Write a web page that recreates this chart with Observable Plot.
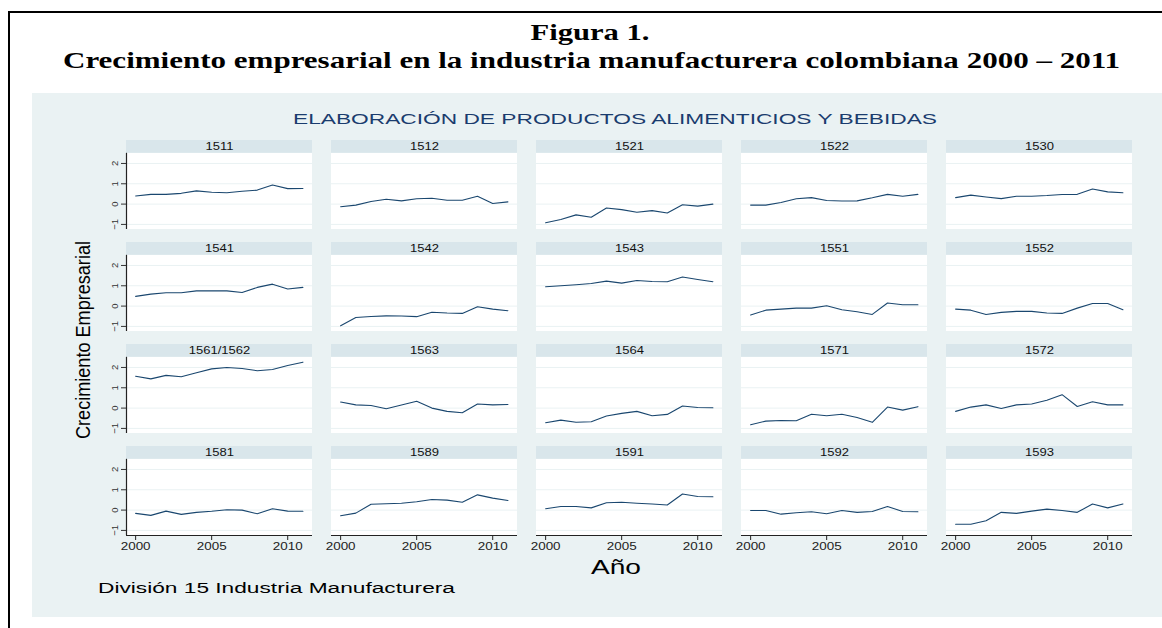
<!DOCTYPE html>
<html>
<head>
<meta charset="utf-8">
<script src="https://cdn.jsdelivr.net/npm/d3@7"></script>
<script src="https://cdn.jsdelivr.net/npm/@observablehq/plot@0.6"></script>
<style>
html, body { margin: 0; padding: 0; background: #ffffff; }
#page { position: relative; width: 1162px; height: 628px; overflow: hidden; background: #ffffff; }
#chart { position: absolute; left: 32px; top: 93px; }
#overlay { position: absolute; left: 0; top: 0; pointer-events: none; }
</style>
</head>
<body>
<div id="page"><div id="chart"></div></div>
<script>
// ---------------- data ----------------
const years = [2000, 2001, 2002, 2003, 2004, 2005, 2006, 2007, 2008, 2009, 2010, 2011];
const codes = [
  "1511", "1512", "1521", "1522", "1530",
  "1541", "1542", "1543", "1551", "1552",
  "1561/1562", "1563", "1564", "1571", "1572",
  "1581", "1589", "1591", "1592", "1593"
];
const s1511 = [0.40, 0.48, 0.48, 0.53, 0.65, 0.58, 0.56, 0.63, 0.69, 0.94, 0.76, 0.77];
const s1512 = [-0.13, -0.05, 0.13, 0.24, 0.16, 0.26, 0.29, 0.19, 0.19, 0.39, 0.03, 0.11];
const s1521 = [-0.92, -0.76, -0.53, -0.65, -0.19, -0.27, -0.40, -0.32, -0.44, -0.03, -0.10, 0.00];
const s1522 = [-0.05, -0.05, 0.08, 0.26, 0.32, 0.18, 0.15, 0.16, 0.31, 0.48, 0.39, 0.48];
const s1530 = [0.32, 0.44, 0.35, 0.27, 0.39, 0.39, 0.42, 0.47, 0.48, 0.74, 0.60, 0.56];
const s1541 = [0.48, 0.59, 0.66, 0.66, 0.75, 0.75, 0.75, 0.67, 0.92, 1.08, 0.84, 0.92];
const s1542 = [-0.97, -0.56, -0.51, -0.48, -0.49, -0.52, -0.30, -0.34, -0.36, -0.03, -0.15, -0.23];
const s1543 = [0.95, 1.00, 1.05, 1.11, 1.23, 1.13, 1.26, 1.21, 1.20, 1.43, 1.31, 1.20];
const s1551 = [-0.44, -0.20, -0.15, -0.10, -0.10, 0.02, -0.18, -0.28, -0.41, 0.15, 0.07, 0.07];
const s1552 = [-0.15, -0.20, -0.41, -0.31, -0.26, -0.26, -0.34, -0.36, -0.10, 0.13, 0.13, -0.18];
const s1561 = [1.57, 1.44, 1.61, 1.54, 1.74, 1.93, 2.00, 1.95, 1.84, 1.90, 2.10, 2.26];
const s1563 = [0.30, 0.16, 0.13, -0.03, 0.15, 0.34, 0.00, -0.16, -0.23, 0.20, 0.16, 0.18];
const s1564 = [-0.72, -0.59, -0.70, -0.67, -0.39, -0.26, -0.16, -0.38, -0.31, 0.10, 0.03, 0.02];
const s1571 = [-0.82, -0.64, -0.61, -0.62, -0.30, -0.38, -0.30, -0.46, -0.70, 0.05, -0.10, 0.07];
const s1572 = [-0.16, 0.05, 0.16, -0.02, 0.16, 0.20, 0.39, 0.66, 0.08, 0.31, 0.16, 0.16];
const s1581 = [-0.16, -0.26, -0.05, -0.21, -0.11, -0.06, 0.02, 0.00, -0.18, 0.07, -0.05, -0.06];
const s1589 = [-0.28, -0.15, 0.29, 0.31, 0.34, 0.41, 0.52, 0.49, 0.39, 0.75, 0.59, 0.47];
const s1591 = [0.07, 0.18, 0.18, 0.11, 0.36, 0.39, 0.34, 0.30, 0.25, 0.79, 0.67, 0.66];
const s1592 = [-0.02, -0.02, -0.20, -0.13, -0.08, -0.18, -0.02, -0.11, -0.07, 0.18, -0.07, -0.08];
const s1593 = [-0.70, -0.70, -0.52, -0.11, -0.16, -0.05, 0.05, -0.02, -0.11, 0.30, 0.11, 0.30];
const seriesValues = [
  s1511, s1512, s1521, s1522, s1530,
  s1541, s1542, s1543, s1551, s1552,
  s1561, s1563, s1564, s1571, s1572,
  s1581, s1589, s1591, s1592, s1593
];
const yTicks = [-1, 0, 1, 2];
const xTicks = [2000, 2005, 2010];

const titleLines = ["Figura 1.", "Crecimiento empresarial en la industria manufacturera colombiana 2000 \u2013 2011"];
const subtitle = "ELABORACI\u00d3N DE PRODUCTOS ALIMENTICIOS Y BEBIDAS";
const yLabel = "Crecimiento Empresarial";
const xLabel = "A\u00f1o";
const note = "Divisi\u00f3n 15 Industria Manufacturera";

// ---------------- layout ----------------
const ncol = 5;
const xDomain = [1999.4, 2011.63];
const yDomain = [-1.25, 3.13];
const plotTop = 2.5;   // boundary between header strip and plot region (in y units)

const panels = codes.map((code, i) => ({code, row: Math.floor(i / ncol), col: i % ncol}));
const records = panels.flatMap((p, i) =>
  years.map((year, j) => ({code: p.code, row: p.row, col: p.col, year, value: seriesValues[i][j]}))
);

const lineColor = "#1a476f";
const bgColor = "#eaf2f3";
const stripColor = "#d9e6eb";

const chart = Plot.plot({
  width: 1130,
  height: 524,
  marginLeft: 94,
  marginRight: 30,
  marginTop: 46,
  marginBottom: 80,
  style: {background: bgColor, fontFamily: "'Liberation Sans', Arial, sans-serif", color: "#222", overflow: "visible"},
  fx: {axis: null, domain: [0, 1, 2, 3, 4], paddingInner: 0.0927, paddingOuter: 0},
  fy: {axis: null, domain: [0, 1, 2, 3], paddingInner: 0.123, paddingOuter: 0},
  x: {domain: xDomain},
  y: {domain: yDomain},
  marks: [
    Plot.rect(panels, {fx: "col", fy: "row", x1: () => xDomain[0], x2: () => xDomain[1], y1: () => yDomain[0], y2: () => plotTop, fill: "#ffffff"}),
    Plot.rect(panels, {fx: "col", fy: "row", x1: () => xDomain[0], x2: () => xDomain[1], y1: () => plotTop, y2: () => yDomain[1], fill: stripColor}),
    Plot.text(panels, {fx: "col", fy: "row", y: () => (plotTop + yDomain[1]) / 2, text: "code", fontSize: 10, fill: "#111"}),
    Plot.gridY(yTicks, {stroke: bgColor, strokeOpacity: 1, strokeWidth: 1}),
    Plot.ruleX(panels.filter(p => p.col === 0), {fx: "col", fy: "row", x: () => xDomain[0], y1: () => yDomain[0], y2: () => plotTop, stroke: "#222", strokeWidth: 1.2}),
    Plot.ruleY(panels.filter(p => p.row === 3), {fx: "col", fy: "row", y: () => yDomain[0], stroke: "#222", strokeWidth: 1.2}),
    Plot.axisY(yTicks, {anchor: "left", tickSize: 5, tickPadding: 4, tickRotate: -90, textAnchor: "middle", lineAnchor: "bottom", fontSize: 9.5, label: null, color: "#333"}),
    Plot.axisX(xTicks, {anchor: "bottom", tickSize: 5, tickPadding: 2, fontSize: 10.5, label: null, tickFormat: "d", color: "#222"}),
    Plot.line(records, {fx: "col", fy: "row", x: "year", y: "value", z: "code", stroke: lineColor, strokeWidth: 1.1})
  ]
});
document.getElementById("chart").appendChild(chart);

function stretch(sel, f) {
  sel.each(function () {
    const w = this.getComputedTextLength();
    if (w > 0) {
      this.setAttribute("textLength", w * f);
      this.setAttribute("lengthAdjust", "spacingAndGlyphs");
    }
  });
}
const cs = d3.select(chart);
stretch(cs.selectAll('g[aria-label="x-axis tick label"] text'), 1.28);
stretch(cs.selectAll('g[aria-label="text"] text'), 1.3);

// ---------------- overlay (titles, borders, labels) ----------------
const ov = d3.select("#page").append("svg").attr("id", "overlay").attr("width", 1162).attr("height", 628);
ov.append("rect").attr("x", 8).attr("y", 11).attr("width", 1154).attr("height", 2).attr("fill", "#000");
ov.append("rect").attr("x", 8).attr("y", 11).attr("width", 2).attr("height", 617).attr("fill", "#000");

function addText(str, x, y, o) {
  const t = ov.append("text")
    .attr("x", 0).attr("y", 0)
    .attr("transform", `translate(${x},${y})` + (o.rotate ? ` rotate(${o.rotate})` : ""))
    .attr("text-anchor", o.anchor || "middle")
    .attr("font-family", o.family || "'Liberation Sans', Arial, sans-serif")
    .attr("font-size", o.size)
    .attr("font-weight", o.weight || "normal")
    .attr("fill", o.fill || "#000")
    .text(str);
  if (o.len) t.attr("textLength", o.len).attr("lengthAdjust", "spacingAndGlyphs");
  return t;
}
const serif = "'Liberation Serif', 'Times New Roman', serif";
addText(titleLines[0], 590, 40, {size: 24, family: serif, weight: "bold", len: 119});
addText(titleLines[1], 591.5, 68, {size: 24, family: serif, weight: "bold", len: 1057});
addText(subtitle, 615, 124, {size: 15, fill: "#1a3c6e", len: 644});
addText(yLabel, 90, 340, {size: 20, rotate: -90, len: 198});
addText(xLabel, 616, 574, {size: 19.5, len: 50});
addText(note, 98, 593, {size: 15.5, anchor: "start", len: 357});
</script>
</body>
</html>
